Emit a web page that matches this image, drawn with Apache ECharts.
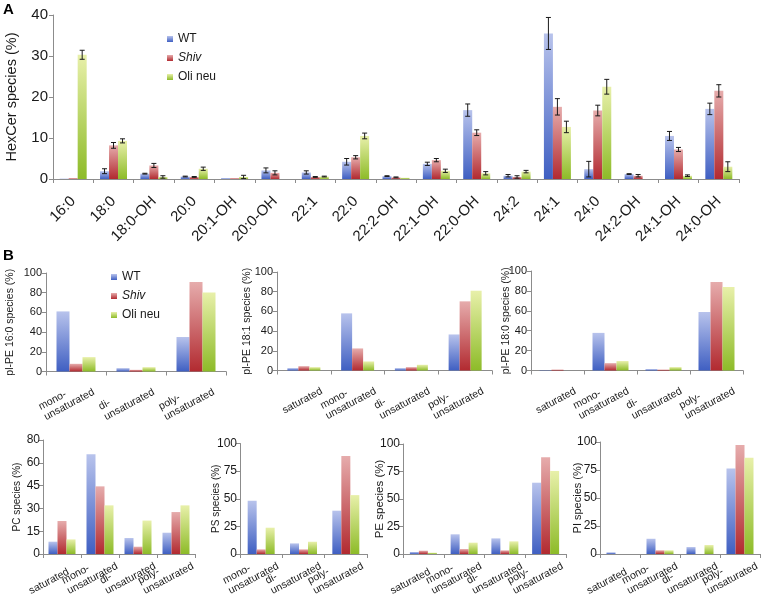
<!DOCTYPE html>
<html><head><meta charset="utf-8">
<script src="https://cdn.jsdelivr.net/npm/echarts@6/dist/echarts.min.js"></script>
<style>html,body{margin:0;padding:0;background:#fff}#c{width:769px;height:598px}</style>
</head><body><div id="c"></div>
<script>
const seriesNames = ['WT', 'Shiv', 'Oli neu'];

// Panel A: HexCer species
const hexCats = ['16:0','18:0','18:0-OH','20:0','20:1-OH','20:0-OH','22:1','22:0','22:2-OH','22:1-OH','22:0-OH','24:2','24:1','24:0','24:2-OH','24:1-OH','24:0-OH'];
const hexWT      = [0.1, 1.9, 1.3, 0.6, 0.2, 2.1, 1.6, 4.2, 0.7, 3.7, 16.8, 0.8, 35.5, 2.4, 1.2, 10.5, 17.1];
const hexShiv    = [0.2, 8.2, 3.3, 0.5, 0.2, 1.5, 0.5, 5.3, 0.4, 4.6, 11.3, 0.5, 17.6, 16.7, 0.8, 7.2, 21.5];
const hexOli     = [30.3, 9.3, 0.5, 2.5, 0.5, 0, 0.6, 10.5, 0.3, 2.0, 1.4, 1.8, 12.7, 22.5, 0, 0.8, 3.0];
const hexWTErr   = [0, 0.6, 0.1, 0.1, 0, 0.6, 0.4, 0.8, 0.1, 0.4, 1.5, 0.3, 3.9, 1.9, 0.1, 1.1, 1.4];
const hexShivErr = [0, 0.7, 0.5, 0.1, 0, 0.5, 0.1, 0.4, 0.1, 0.4, 0.7, 0.3, 2.0, 1.3, 0.3, 0.5, 1.5];
const hexOliErr  = [1.1, 0.5, 0.3, 0.4, 0.4, 0, 0.1, 0.7, 0, 0.4, 0.4, 0.3, 1.4, 1.8, 0, 0.2, 1.2];

// Panel B categories
const threeCats = ['mono-\nunsaturated', 'di-\nunsaturated', 'poly-\nunsaturated'];
const fourCats  = ['saturated', 'mono-\nunsaturated', 'di-\nunsaturated', 'poly-\nunsaturated'];

// pl-PE 16:0
const pe160WT   = [61, 3.4, 35];
const pe160Shiv = [7.8, 1.7, 90.8];
const pe160Oli  = [14.6, 4.4, 80.3];
// pl-PE 18:1
const pe181WT   = [2.4, 58, 2.4, 36.6];
const pe181Shiv = [4.4, 22.4, 3.4, 70.2];
const pe181Oli  = [3.4, 9.2, 5.8, 81];
// pl-PE 18:0
const pe180WT   = [0.3, 37.8, 1.4, 58.8];
const pe180Shiv = [1.0, 7.4, 1.0, 88.9];
const pe180Oli  = [0, 9.5, 3.4, 83.8];
// PC (axis drawn with equal steps, top label reads 80)
const pcWT   = [8.1, 65.6, 10.5, 14];
const pcShiv = [21.7, 44.5, 4.8, 27.6];
const pcOli  = [9.6, 32, 22, 32];
const pcTickLabels = ['0', '15', '30', '45', '60', '80'];
// PS
const psWT   = [48.2, 9.6, 39.2];
const psShiv = [4.2, 4.2, 88.6];
const psOli  = [23.8, 11.1, 53.3];
// PE
const peWT   = [1.8, 17.9, 14.2, 64.8];
const peShiv = [3.0, 4.5, 3.3, 87.9];
const peOli  = [1.2, 10.3, 11.5, 75.5];
// PI
const piWT   = [1.5, 13.6, 6.2, 76.3];
const piShiv = [0, 3.3, 0, 97.3];
const piOli  = [0, 3.3, 8, 86];

const FONT = 'Liberation Sans, Arial, sans-serif';
const grad = (a, b) => new echarts.graphic.LinearGradient(0, 0, 0, 1, [{offset: 0, color: a}, {offset: 1, color: b}]);
const colors = [grad('#b8c3ec', '#3f5fc2'), grad('#e6acac', '#b22a30'), grad('#e8f0aa', '#8dbb28')];

const grids = [], xAxes = [], yAxes = [], series = [];

function multiLine() {
  return v => {
    const parts = v.split('\n');
    if (parts.length === 1) return '{l| }\n{s|' + parts[0] + '}';
    return parts.map(s => '{l|' + s + '}').join('\n');
  };
}

function addChart(cfg) {
  const gi = grids.length;
  grids.push({left: cfg.left, top: cfg.top, width: cfg.width, height: cfg.height,
    containLabel: false, outerBoundsMode: 'none'});
  const lf = cfg.labelFont;
  const axisLabel = cfg.multi ? {
    rotate: cfg.rotate, interval: 0, margin: cfg.labelMargin, verticalAlign: 'top',
    padding: [0, -cfg.shift, 0, 0],
    formatter: multiLine(),
    rich: {
      l: {align: 'left', fontSize: lf, fontFamily: FONT, color: '#1a1a1a', lineHeight: lf + 1},
      s: {align: 'left', fontSize: lf, fontFamily: FONT, color: '#1a1a1a', lineHeight: lf + 1, padding: [0, cfg.satPad, 0, 0]}
    }
  } : {
    rotate: cfg.rotate, fontSize: lf, color: '#1a1a1a', fontFamily: FONT, margin: cfg.labelMargin, interval: 0
  };
  xAxes.push({
    type: 'category', gridIndex: gi, data: cfg.cats,
    axisLine: {lineStyle: {color: '#8c8c8c', width: 1}},
    axisTick: {show: true, length: 4, lineStyle: {color: '#8c8c8c'}},
    axisLabel: axisLabel
  });
  yAxes.push({
    type: 'value', gridIndex: gi, min: 0, max: cfg.max, interval: cfg.interval,
    name: cfg.yName, nameLocation: 'middle', nameRotate: 90, nameGap: cfg.nameGap, nameMoveOverlap: false,
    nameTextStyle: {fontSize: cfg.nameFont, color: '#1a1a1a', fontFamily: FONT},
    axisLine: {show: true, lineStyle: {color: '#8c8c8c', width: 1}},
    axisTick: {show: true, length: 4, lineStyle: {color: '#8c8c8c'}},
    splitLine: {show: false},
    axisLabel: {fontSize: cfg.tickFont, color: '#1a1a1a', fontFamily: FONT, margin: cfg.tickMargin || 5,
      formatter: cfg.tickFormatter || (v => String(v))}
  });
  cfg.values.forEach((vals, k) => {
    series.push({
      type: 'bar', name: seriesNames[k], xAxisIndex: gi, yAxisIndex: gi,
      data: vals, barWidth: cfg.barWidth, barGap: '0%',
      itemStyle: {color: colors[k]}, emphasis: {disabled: true}, animation: false
    });
  });
  if (cfg.errors) {
    cfg.errors.forEach((errs, k) => {
      const off = (k - 1) * cfg.barWidth;
      series.push({
        type: 'custom', name: 'err' + k, xAxisIndex: gi, yAxisIndex: gi, z: 5, animation: false,
        data: cfg.values[k].map((v, i) => [i, v, errs[i]]),
        renderItem: (params, api) => {
          const i = api.value(0), v = api.value(1), e = api.value(2);
          if (!e) return null;
          const c = api.coord([i, v]);
          const hi = api.coord([i, v + e]);
          const lo = api.coord([i, Math.max(v - e, 0)]);
          const x = c[0] + off, cap = 2.5;
          const st = {stroke: '#1a1a1a', lineWidth: 1};
          return {type: 'group', children: [
            {type: 'line', shape: {x1: x, y1: hi[1], x2: x, y2: lo[1]}, style: st},
            {type: 'line', shape: {x1: x - cap, y1: hi[1], x2: x + cap, y2: hi[1]}, style: st},
            {type: 'line', shape: {x1: x - cap, y1: lo[1], x2: x + cap, y2: lo[1]}, style: st}
          ]};
        }
      });
    });
  }
}

// Panel A
addChart({left: 53, top: 15, width: 686, height: 164, cats: hexCats, max: 40, interval: 10,
  yName: 'HexCer species (%)', nameGap: 33.5, nameFont: 14.5, tickFont: 15, labelFont: 15, rotate: 45, labelMargin: 20,
  barWidth: 9, values: [hexWT, hexShiv, hexOli], errors: [hexWTErr, hexShivErr, hexOliErr]});

const row1 = {max: 100, interval: 20, nameFont: 10.5, tickFont: 11, labelFont: 10.5, rotate: 28, multi: true,
  labelMargin: 10, shift: 11, satPad: 0, tickMargin: 4};
const row2 = {max: 100, interval: 25, nameFont: 11, tickFont: 12, labelFont: 10.5, rotate: 28, multi: true,
  labelMargin: 1, shift: 10, satPad: 12, barWidth: 9, tickMargin: 3};

// Row 1
addChart(Object.assign({}, row1, {left: 46, top: 273, width: 180, height: 98.5, cats: threeCats,
  yName: 'pl-PE 16:0 species (%)', nameGap: 30, barWidth: 13, values: [pe160WT, pe160Shiv, pe160Oli]}));
addChart(Object.assign({}, row1, {left: 277, top: 272, width: 215, height: 98.5, cats: fourCats,
  yName: 'pl-PE 18:1 species (%)', nameGap: 24.5, barWidth: 11, values: [pe181WT, pe181Shiv, pe181Oli]}));
addChart(Object.assign({}, row1, {left: 531, top: 271, width: 212, height: 99.5, cats: fourCats,
  yName: 'pl-PE 18:0 species (%)', nameGap: 19, barWidth: 12, values: [pe180WT, pe180Shiv, pe180Oli]}));

// Row 2
addChart(Object.assign({}, row2, {left: 43, top: 440, width: 152, height: 114, cats: fourCats, max: 75, interval: 15,
  yName: 'PC species (%)', nameFont: 10, nameGap: 20.5, values: [pcWT, pcShiv, pcOli],
  tickFormatter: v => pcTickLabels[Math.round(v / 15)]}));
addChart(Object.assign({}, row2, {left: 240, top: 443.5, width: 127, height: 110.5, cats: threeCats,
  yName: 'PS species (%)', nameFont: 10, nameGap: 19, values: [psWT, psShiv, psOli]}));
addChart(Object.assign({}, row2, {left: 403, top: 444, width: 163, height: 110, cats: fourCats,
  yName: 'PE species (%)', nameFont: 11.5, nameGap: 17, values: [peWT, peShiv, peOli]}));
addChart(Object.assign({}, row2, {left: 600, top: 442, width: 160, height: 112, cats: fourCats,
  yName: 'PI species (%)', nameFont: 11, nameGap: 17, values: [piWT, piShiv, piOli]}));

const legendData = [{name: 'WT'}, {name: 'Shiv', textStyle: {fontStyle: 'italic'}}, {name: 'Oli neu'}];
const legendBase = {orient: 'vertical', icon: 'rect', itemWidth: 6, itemHeight: 6, itemGap: 7,
  textStyle: {fontSize: 12, color: '#1a1a1a', fontFamily: FONT}, data: legendData, selectedMode: false};

const chart = echarts.init(document.getElementById('c'), null, {renderer: 'canvas'});
chart.setOption({
  backgroundColor: '#fff',
  animation: false,
  textStyle: {fontFamily: FONT},
  grid: grids, xAxis: xAxes, yAxis: yAxes, series: series,
  legend: [
    Object.assign({left: 162, top: 28}, legendBase),
    Object.assign({left: 106, top: 266}, legendBase)
  ],
  graphic: [
    {type: 'text', left: 3, top: 2, style: {text: 'A', font: 'bold 15px ' + FONT, fill: '#000'}},
    {type: 'text', left: 3, top: 248, style: {text: 'B', font: 'bold 15px ' + FONT, fill: '#000'}}
  ]
});
</script></body></html>
